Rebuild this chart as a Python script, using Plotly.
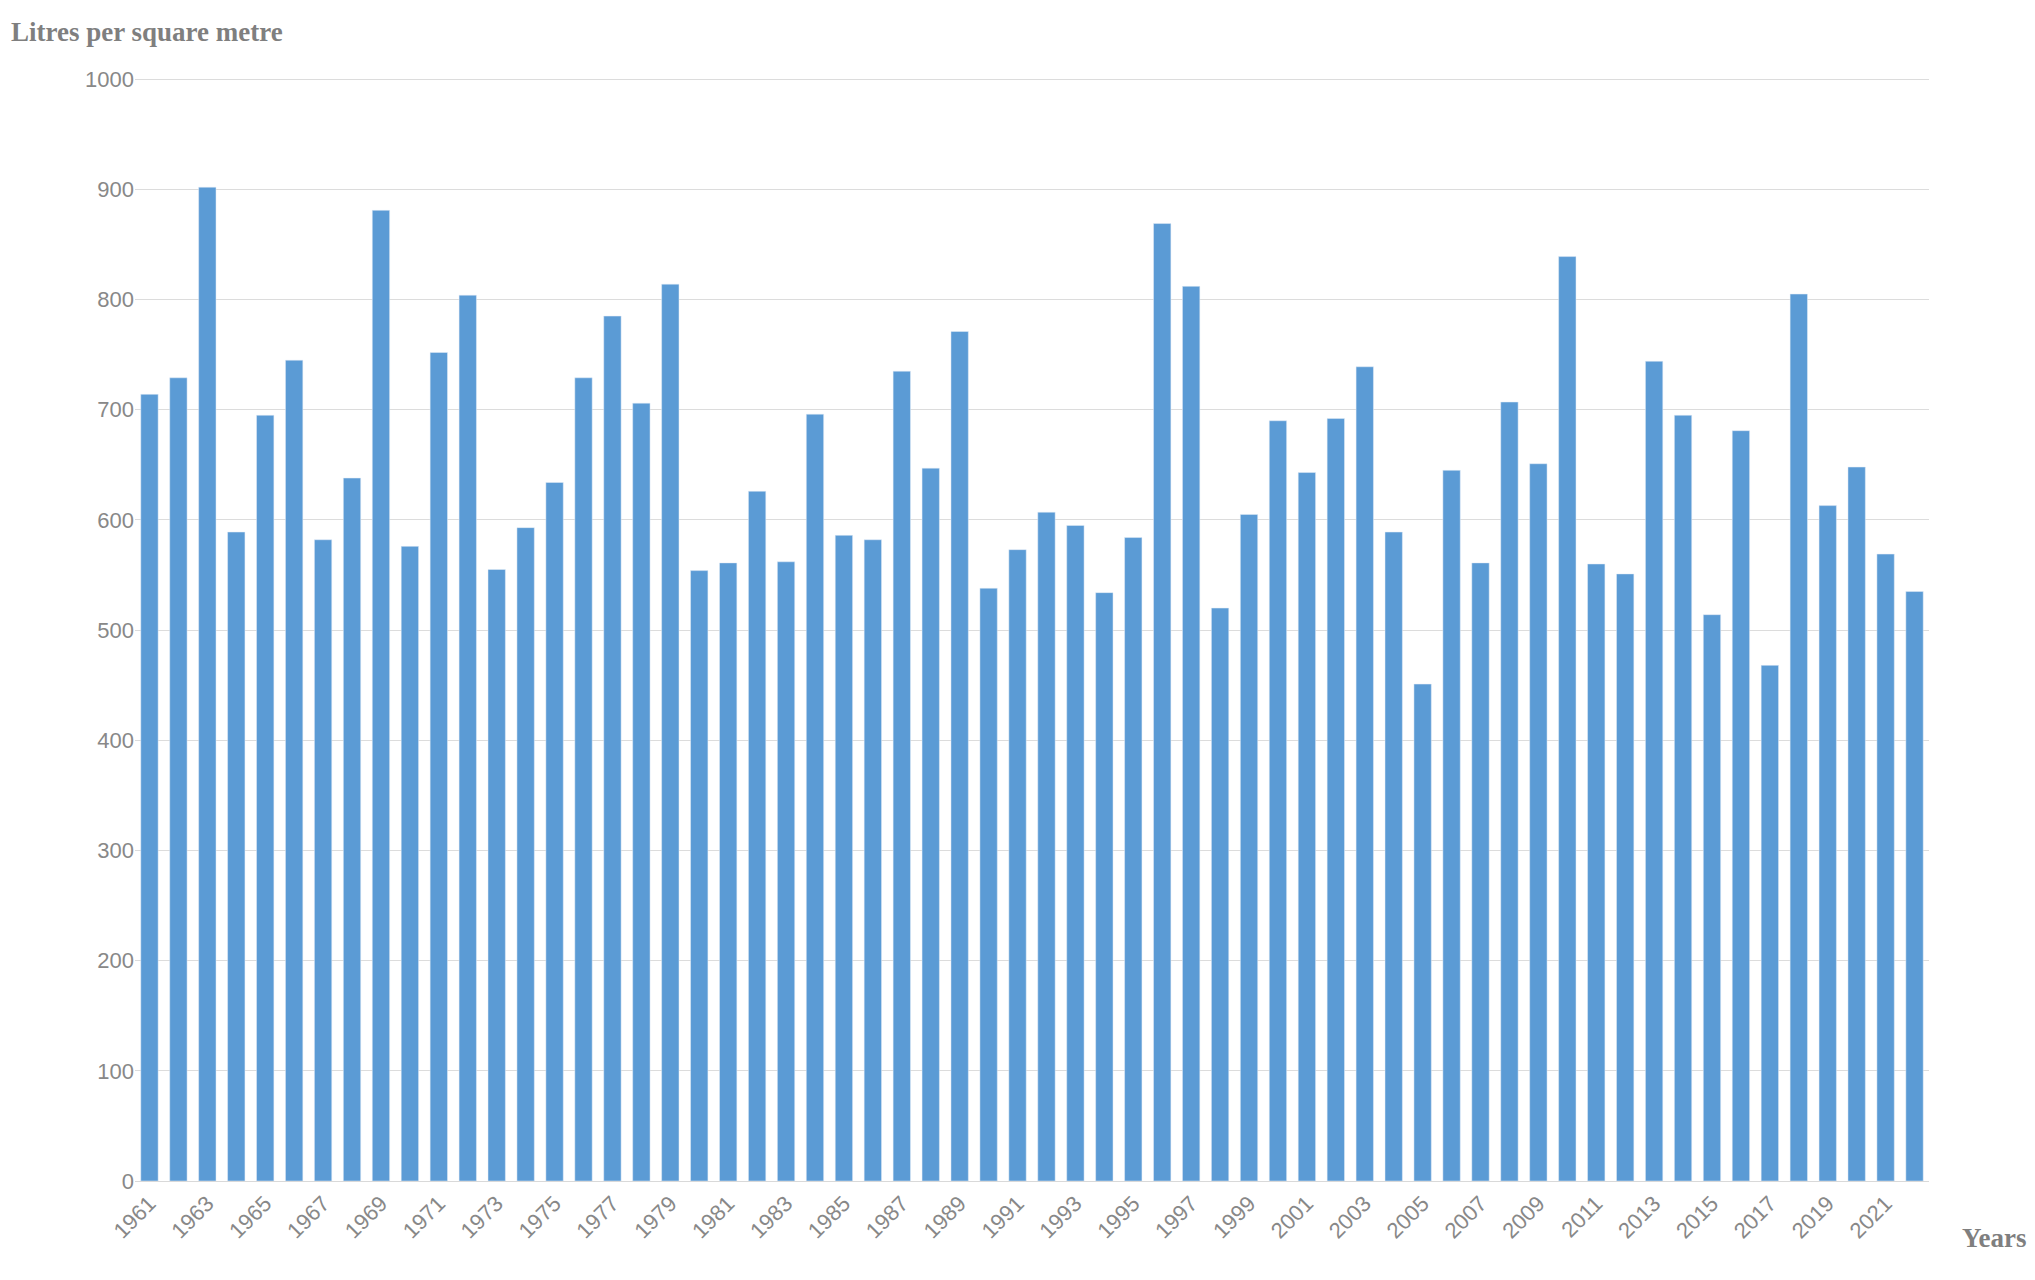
import plotly.graph_objects as go

years = list(range(1961, 2023))
values = [714, 729, 902, 589, 695, 745, 582, 638, 881, 576,
          752, 804, 555, 593, 634, 729, 785, 706, 814, 554,
          561, 626, 562, 696, 586, 582, 735, 647, 771, 538,
          573, 607, 595, 534, 584, 869, 812, 520, 605, 690,
          643, 692, 739, 589, 451, 645, 561, 707, 651, 839,
          560, 551, 744, 695, 514, 681, 468, 805, 613, 648,
          569, 535]
tick_years = [str(y) for y in range(1961, 2023, 2)]

fig = go.Figure(go.Bar(x=[str(y) for y in years], y=values,
                       marker_color="#5b9bd5", width=0.6))
fig.update_layout(
    width=2035, height=1280, plot_bgcolor="white", paper_bgcolor="white",
    margin=dict(l=127, r=114, t=69, b=107), showlegend=False,
    font=dict(family="Liberation Sans", color="#888888", size=22),
    bargap=0.4,
)
fig.update_xaxes(type="category", tickmode="array", tickvals=tick_years,
                 ticktext=tick_years, tickangle=-45, showgrid=False,
                 showline=True, linecolor="#d9d9d9", ticks="")
fig.update_yaxes(range=[0, 1002], dtick=100, gridcolor="#dcdcdc",
                 zeroline=False, showline=False, ticks="")
fig.add_annotation(text="<b>Litres per square metre</b>", xref="paper", yref="paper",
                   x=-0.07, y=1.0, yshift=28, xanchor="left", yanchor="bottom",
                   showarrow=False, font=dict(family="Liberation Serif", size=27, color="#7f7f7f"))
fig.add_annotation(text="<b>Years</b>", xref="paper", yref="paper",
                   x=1.055, y=0, yshift=-40, xanchor="right", yanchor="top",
                   showarrow=False, font=dict(family="Liberation Serif", size=27, color="#7f7f7f"))
fig.write_html("out.html")
